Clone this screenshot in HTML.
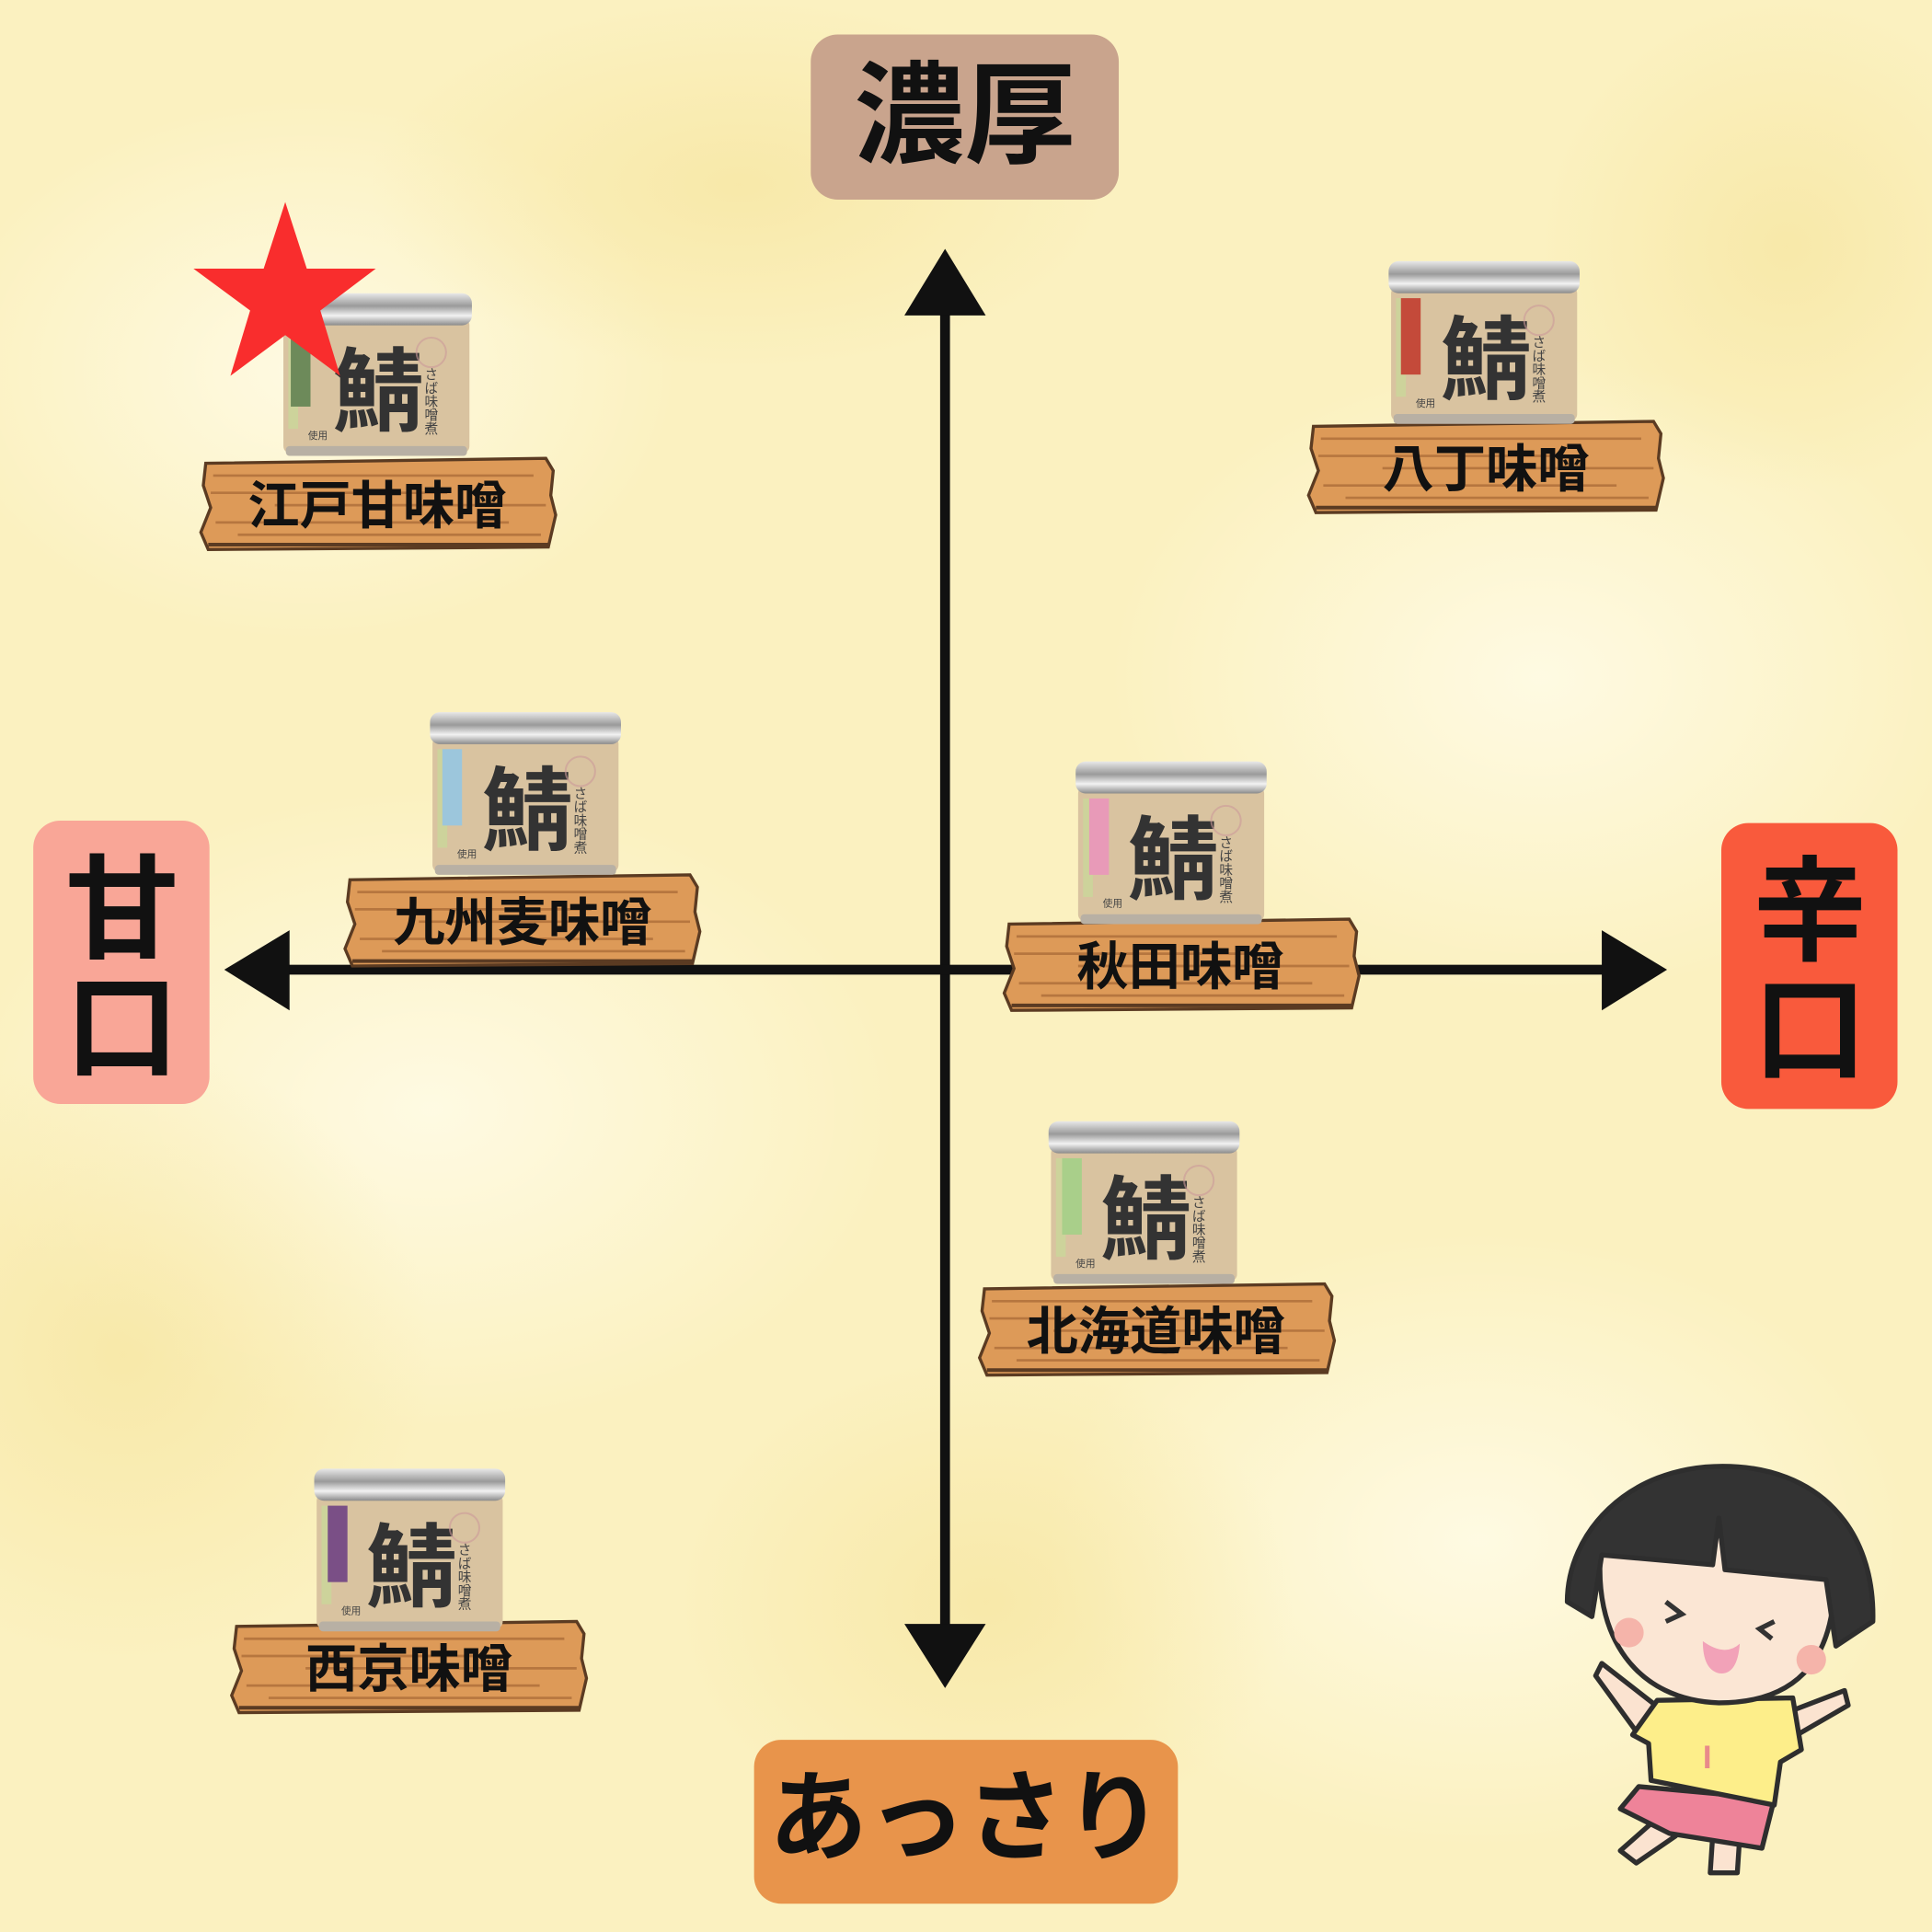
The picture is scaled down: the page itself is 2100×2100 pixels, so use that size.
<!DOCTYPE html>
<html><head><meta charset="utf-8"><style>
html,body{margin:0;padding:0;width:2100px;height:2100px;overflow:hidden;background:#fbf1c0}
svg{display:block}
text{font-family:"Liberation Sans","Noto Sans CJK JP",sans-serif}
</style></head><body>
<svg width="2100" height="2100" viewBox="0 0 1568 1568" xmlns="http://www.w3.org/2000/svg">
<defs>
<radialGradient id="bl1" cx="50%" cy="50%" r="50%"><stop offset="0" stop-color="#fffbe6" stop-opacity=".9"/><stop offset="1" stop-color="#fffbe6" stop-opacity="0"/></radialGradient>
<radialGradient id="bl2" cx="50%" cy="50%" r="50%"><stop offset="0" stop-color="#f6e39a" stop-opacity=".6"/><stop offset="1" stop-color="#f6e39a" stop-opacity="0"/></radialGradient>
<linearGradient id="rim" x1="0" y1="0" x2="0" y2="1"><stop offset="0" stop-color="#e8e8e8"/><stop offset=".4" stop-color="#9a9a9a"/><stop offset=".7" stop-color="#f2f2f2"/><stop offset="1" stop-color="#8a8a8a"/></linearGradient>
<g id="can">
  <rect x="2" y="20" width="151" height="110" rx="6" fill="#d9c3a0"/>
  <rect x="0" y="0" width="155" height="26" rx="8" fill="url(#rim)"/>
  <rect x="4" y="124" width="147" height="8" rx="3" fill="#b8b0a4"/>
  <rect x="6" y="30" width="8" height="80" fill="#c9d79a" opacity=".8"/>
  <text x="42" y="106" font-size="74" fill="#333" font-weight="bold">鯖</text>
  <text x="121" y="60" font-size="11" fill="#444" writing-mode="tb">さば味噌煮</text>
  <circle cx="122" cy="48" r="12" fill="none" stroke="#c99" stroke-width="1.5" opacity=".6"/>
  <text x="22" y="118" font-size="8" fill="#444">使用</text>
</g>
<g id="plank">
  <path d="M4 4 L280 0 L286 10 L284 30 L288 46 L282 72 L6 74 L0 60 L8 40 L2 22 Z" fill="#dd9a58" stroke="#5b3b22" stroke-width="2.5"/>
  <path d="M10 14 H270 M8 28 H200 M60 38 H280 M12 52 H250 M30 62 H276" stroke="#b6763f" stroke-width="2" fill="none"/>
  <path d="M6 70 H282" stroke="#5b3b22" stroke-width="3"/>
</g>
</defs>
<rect width="1568" height="1568" fill="#fbf1c0"/>
<ellipse cx="250" cy="300" rx="300" ry="220" fill="url(#bl1)"/>
<ellipse cx="1250" cy="550" rx="350" ry="260" fill="url(#bl1)"/>
<ellipse cx="350" cy="900" rx="380" ry="260" fill="url(#bl1)"/>
<ellipse cx="1200" cy="1250" rx="350" ry="250" fill="url(#bl1)"/>
<ellipse cx="600" cy="150" rx="300" ry="150" fill="url(#bl2)"/>
<ellipse cx="100" cy="1100" rx="250" ry="250" fill="url(#bl2)"/>
<ellipse cx="1450" cy="200" rx="200" ry="200" fill="url(#bl2)"/>
<ellipse cx="800" cy="1300" rx="250" ry="200" fill="url(#bl2)"/>

<rect x="658" y="28" width="250" height="134" rx="22" fill="#c9a48d"/>
<text x="783" y="125" font-size="90" font-weight="bold" text-anchor="middle" fill="#111">濃厚</text>
<rect x="612" y="1412" width="344" height="133" rx="22" fill="#e8944b"/>
<text x="784" y="1503" font-size="80" font-weight="bold" text-anchor="middle" fill="#111">あっさり</text>
<rect x="27" y="666" width="143" height="230" rx="22" fill="#f9a697"/>
<text x="99" y="770" font-size="92" font-weight="bold" text-anchor="middle" fill="#111">甘</text>
<text x="99" y="866" font-size="92" font-weight="bold" text-anchor="middle" fill="#111">口</text>
<rect x="1397" y="668" width="143" height="232" rx="22" fill="#f95a3c"/>
<text x="1469" y="772" font-size="92" font-weight="bold" text-anchor="middle" fill="#111">辛</text>
<text x="1469" y="868" font-size="92" font-weight="bold" text-anchor="middle" fill="#111">口</text>

<rect x="763" y="245" width="8" height="1085" fill="#111"/>
<polygon points="767,202 800,256 734,256" fill="#111"/>
<polygon points="767,1370 800,1318 734,1318" fill="#111"/>
<rect x="225" y="783" width="1085" height="8" fill="#111"/>
<polygon points="182,787 235,755 235,820" fill="#111"/>
<polygon points="1353,787 1300,755 1300,820" fill="#111"/>

<use href="#plank" x="163" y="372"/><use href="#can" x="228" y="238"/>
<rect x="236" y="268" width="16" height="62" fill="#6d8a5a"/>
<text x="306" y="425" font-size="42" font-weight="bold" text-anchor="middle" fill="#111">江戸甘味噌</text>

<use href="#plank" x="1062" y="342"/><use href="#can" x="1127" y="212"/>
<rect x="1137" y="242" width="16" height="62" fill="#c44a3a"/>
<text x="1206" y="395" font-size="42" font-weight="bold" text-anchor="middle" fill="#111">八丁味噌</text>

<use href="#plank" x="280" y="710"/><use href="#can" x="349" y="578"/>
<rect x="359" y="608" width="16" height="62" fill="#9cc6dc"/>
<text x="424" y="763" font-size="42" font-weight="bold" text-anchor="middle" fill="#111">九州麦味噌</text>

<use href="#plank" x="815" y="746"/><use href="#can" x="873" y="618"/>
<rect x="884" y="648" width="16" height="62" fill="#e89ab8"/>
<text x="958" y="799" font-size="42" font-weight="bold" text-anchor="middle" fill="#111">秋田味噌</text>

<use href="#plank" x="795" y="1042"/><use href="#can" x="851" y="910"/>
<rect x="862" y="940" width="16" height="62" fill="#a9cf8a"/>
<text x="938" y="1095" font-size="42" font-weight="bold" text-anchor="middle" fill="#111">北海道味噌</text>

<use href="#plank" x="188" y="1316"/><use href="#can" x="255" y="1192"/>
<rect x="266" y="1222" width="16" height="62" fill="#7a4f86"/>
<text x="332" y="1369" font-size="42" font-weight="bold" text-anchor="middle" fill="#111">西京味噌</text>

<polygon points="231.5,164 249,218 305,218 260,252 276,305 231.5,272 187,305 203,252 157,218 214,218" fill="#f92d2d"/>

<g stroke="#2e2e2e" stroke-width="4" stroke-linejoin="round" stroke-linecap="round">
  <path d="M1330 1408 L1295 1360 L1300 1350 L1345 1385 Z" fill="#fbe3d0"/>
  <path d="M1450 1390 L1497 1372 L1500 1384 L1455 1410 Z" fill="#fbe3d0"/>
  <path d="M1340 1480 L1315 1502 L1328 1512 L1360 1490 Z" fill="#fbe3d0"/>
  <path d="M1390 1490 L1388 1520 L1410 1520 L1412 1490 Z" fill="#fbe3d0"/>
  <path d="M1330 1450 L1315 1468 L1355 1488 L1430 1500 L1440 1460 Z" fill="#ee8399"/>
  <path d="M1345 1380 L1455 1378 L1462 1420 L1445 1430 L1440 1465 L1340 1445 L1338 1415 L1325 1408 Z" fill="#fdee8a"/>
  <path d="M1300 1250 C1290 1330 1330 1380 1395 1382 C1460 1382 1495 1345 1488 1260 L1395 1235 Z" fill="#fbe6d4"/>
  <path d="M1398 1190 C1320 1190 1272 1245 1272 1300 L1292 1312 L1300 1262 L1390 1270 L1395 1232 L1400 1274 L1482 1282 L1490 1336 L1520 1316 C1522 1240 1475 1190 1398 1190 Z" fill="#333"/>
</g>
<circle cx="1322" cy="1325" r="12" fill="#f5b4aa"/>
<circle cx="1470" cy="1347" r="12" fill="#f5b4aa"/>
<path d="M1352 1300 L1365 1310 L1352 1316 M1440 1316 L1428 1322 L1438 1330" stroke="#333" stroke-width="4" fill="none"/>
<path d="M1382 1332 Q1400 1345 1412 1334 Q1410 1360 1395 1358 Q1382 1355 1382 1332 Z" fill="#f2a2b8"/>
<text x="1382" y="1435" font-size="26" font-weight="bold" fill="#e88a8a">I</text>
</svg>
</body></html>
